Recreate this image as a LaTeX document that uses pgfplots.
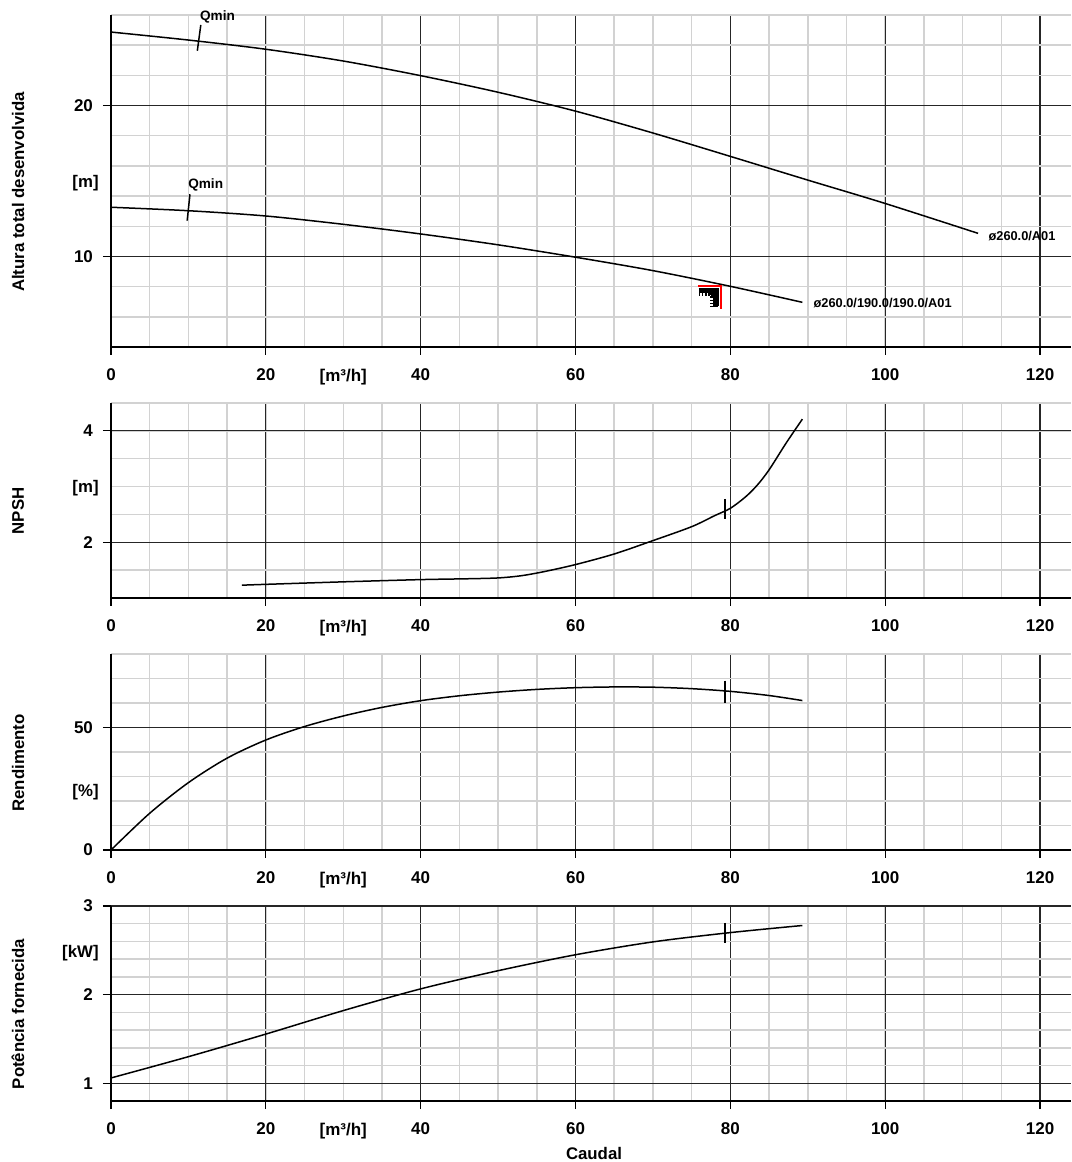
\documentclass[border=0pt]{standalone}
\usepackage{fontspec}
\setmainfont{Liberation Sans}
\usepackage{pgfplots}
\pgfplotsset{compat=1.18}
\pgfplotsset{
 pumpaxis/.style={
   scale only axis, width=480pt, anchor=south west,
   xmin=0, xmax=124,
   axis lines*=left,
   axis line style={black, line width=0.9pt},
   xtick={0,20,...,120},
   minor xtick={0,5,...,120},
   grid=both,
   major grid style={black!85, line width=0.55pt},
   minor grid style={gray!35, line width=0.75pt},
   tick align=outside,
   major tick length=4pt,
   minor tick length=0pt,
   tick style={black, line width=0.55pt},
   tick label style={font=\bfseries\fontsize{8.5}{10}\selectfont},
   xticklabel style={yshift=-3.5pt},
   yticklabel style={xshift=-1.5pt},
   /pgf/number format/assume math mode=true,
   clip mode=individual,
   extra x ticks={30}, extra x tick labels={{[m³/h]}},
   extra x tick style={grid=none, major tick length=0pt, xticklabel style={yshift=-4pt}},
 },
 curve/.style={black, line width=0.75pt, smooth, no marks},
 mk/.style={black, line width=1.1pt, no marks},
}
\begin{document}
\begin{tikzpicture}
\useasboundingbox (0,0) rectangle (535.5pt,581pt);
% Head
\begin{axis}[pumpaxis, at={(55.5pt,407.5pt)}, height=166pt,
  ymin=4, ymax=26, ytick={10,20}, minor ytick={4,6,...,26}]
\addplot[curve] coordinates {(0,24.87) (10,24.34) (20,23.73) (30,22.95) (40,21.98) (50,20.88) (60,19.63) (70,18.18) (80,16.63) (90,15.06) (100,13.51) (112,11.53)};
\addplot[curve] coordinates {(0,13.26) (10,13.03) (20,12.68) (30,12.13) (40,11.49) (50,10.77) (60,9.95) (70,9.06) (80,8.02) (89.3,6.96)};
\addplot[black, line width=0.75pt, no marks] coordinates {(11.6,25.34) (11.15,23.63)};
\addplot[black, line width=0.75pt, no marks] coordinates {(10.2,14.12) (9.84,12.37)};
\addplot[black, line width=2.6pt, no marks] coordinates {(76.1,7.75) (78.15,7.75) (78.15,6.7)};
\addplot[black, line width=4pt, dash pattern=on 0.8pt off 0.8pt, no marks] coordinates {(75.9,7.62) (77.85,7.62) (77.85,6.62)};
\addplot[red, line width=1.4pt, no marks] coordinates {(75.8,8.04) (78.8,8.04) (78.8,6.52)};
\node[font=\bfseries\fontsize{6.8}{8}\selectfont, inner sep=0pt] at (axis cs:13.76,25.89) {Qmin};
\node[font=\bfseries\fontsize{6.8}{8}\selectfont, inner sep=0pt] at (axis cs:12.23,14.73) {Qmin};
\node[font=\bfseries\fontsize{6.4}{8}\selectfont, inner sep=0pt, anchor=west] at (axis cs:113.3,11.35) {ø260.0/A01};
\node[font=\bfseries\fontsize{6.4}{8}\selectfont, inner sep=0pt, anchor=west] at (axis cs:90.7,6.92) {ø260.0/190.0/190.0/A01};
\end{axis}
% NPSH
\begin{axis}[pumpaxis, at={(55.5pt,282pt)}, height=97.5pt,
  ymin=1, ymax=4.5, ytick={2,4}, minor ytick={1,1.5,...,4.5}]
\addplot[curve] coordinates {(16.9,1.23) (20,1.245) (30,1.29) (40,1.33) (46,1.345) (50,1.36) (53,1.40) (56,1.475) (60,1.60) (65,1.79) (70,2.03) (75,2.28) (78,2.48) (80,2.61) (82,2.82) (83.5,3.03) (85,3.30) (87.2,3.78) (89.3,4.21)};
\addplot[mk] coordinates {(79.3,2.78) (79.3,2.41)};
\end{axis}
% Efficiency
\begin{axis}[pumpaxis, at={(55.5pt,156pt)}, height=98pt,
  ymin=0, ymax=80, ytick={0,50}, minor ytick={0,10,...,80}]
\addplot[curve] coordinates {(0,0) (5,15) (10,27.5) (15,37.5) (20,44.9) (25,50.4) (30,54.7) (35,58.2) (40,60.95) (45,62.95) (50,64.45) (55,65.55) (60,66.25) (65,66.55) (70,66.45) (75,65.85) (80,64.75) (85,63.05) (89.3,61.0)};
\addplot[mk] coordinates {(79.3,69.1) (79.3,60.1)};
\end{axis}
% Power
\begin{axis}[pumpaxis, at={(55.5pt,30.5pt)}, height=97.5pt,
  ymin=0.8, ymax=3, ytick={1,2,3}, minor ytick={0.8,1,1.2,1.4,1.6,1.8,2,2.2,2.4,2.6,2.8,3}]
\addplot[curve] coordinates {(0,1.06) (10,1.30) (20,1.555) (30,1.82) (40,2.065) (50,2.27) (60,2.45) (70,2.595) (80,2.70) (89.3,2.78)};
\addplot[mk] coordinates {(79.3,2.81) (79.3,2.58)};
\end{axis}
% Labels
\begin{scope}[every node/.style={font=\bfseries\fontsize{8.4}{10}\selectfont, inner sep=0pt}]
\node[rotate=90] at (9pt,485pt) {Altura total desenvolvida};
\node[rotate=90] at (9pt,325.5pt) {NPSH};
\node[rotate=90] at (9pt,199.5pt) {Rendimento};
\node[rotate=90] at (9pt,74pt) {Potência fornecida};
\node[anchor=east] at (49.5pt,489.5pt) {[m]};
\node[anchor=east] at (49.5pt,337pt) {[m]};
\node[anchor=east] at (49.5pt,185pt) {[\%]};
\node[anchor=east] at (49.5pt,104.5pt) {[kW]};
\node at (297pt,4.5pt) {Caudal};
\end{scope}
\end{tikzpicture}
\end{document}
